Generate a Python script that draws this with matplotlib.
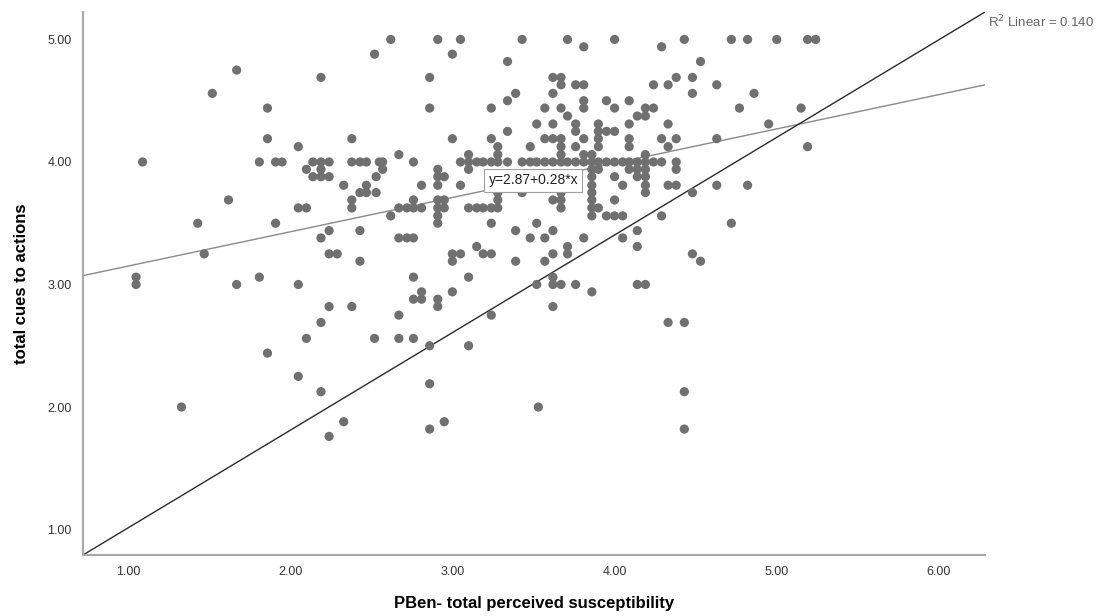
import matplotlib
matplotlib.use("Agg")
import matplotlib.pyplot as plt
import numpy as np

plt.rcParams['font.family'] = ['Liberation Sans', 'DejaVu Sans']

# points grouped by y level (total cues to actions): x values (susceptibility)
rows = [
    (5.00, [2.62, 2.91, 3.05, 3.43, 3.71, 4.00, 4.43, 4.72, 4.82, 5.00, 5.19, 5.24]),
    (4.94, [3.81, 4.29]),
    (4.88, [2.52, 3.00]),
    (4.82, [3.34, 4.53]),
    (4.75, [1.67]),
    (4.69, [2.19, 2.86, 3.62, 3.67, 4.38, 4.48]),
    (4.63, [3.67, 3.76, 3.81, 4.24, 4.33, 4.63]),
    (4.56, [1.52, 3.39, 3.62, 4.48, 4.86]),
    (4.50, [3.34, 3.81, 3.95, 4.09]),
    (4.44, [1.86, 2.86, 3.24, 3.57, 3.67, 3.81, 4.00, 4.19, 4.24, 4.77, 5.15]),
    (4.375, [3.71, 4.14, 4.19]),
    (4.31, [3.52, 3.62, 3.76, 3.90, 4.09, 4.33, 4.95]),
    (4.25, [3.34, 3.76, 3.90, 3.95, 4.00]),
    (4.19, [1.86, 2.38, 3.00, 3.24, 3.57, 3.62, 3.67, 3.81, 3.90, 4.09, 4.29, 4.38, 4.63]),
    (4.125, [2.05, 3.28, 3.48, 3.67, 3.76, 3.90, 4.09, 4.33, 5.19]),
    (4.06, [2.67, 3.10, 3.28, 3.67, 3.81, 3.86, 4.19]),
    (4.00, [1.09, 1.81, 1.91, 1.95, 2.14, 2.19, 2.24, 2.38, 2.43, 2.47, 2.55, 2.57,
            2.76, 3.05, 3.10, 3.15, 3.19, 3.24, 3.28, 3.34, 3.43, 3.48, 3.52, 3.57,
            3.62, 3.67, 3.71, 3.76, 3.81, 3.86, 3.90, 3.95, 4.00, 4.05, 4.09, 4.14,
            4.19, 4.24, 4.29, 4.38]),
    (3.94, [2.10, 2.19, 2.57, 2.91, 3.10, 3.86, 3.90, 4.09, 4.14, 4.19, 4.38]),
    (3.88, [2.14, 2.19, 2.24, 2.53, 2.91, 2.95, 3.67, 3.76, 3.86, 4.00, 4.14, 4.19]),
    (3.81, [2.33, 2.47, 2.81, 2.91, 3.05, 3.28, 3.34, 3.67, 3.86, 4.05, 4.19, 4.33,
            4.38, 4.63, 4.82]),
    (3.75, [2.43, 2.47, 2.53, 3.28, 3.43, 3.67, 3.86, 4.19, 4.48]),
    (3.69, [1.62, 2.38, 2.76, 2.91, 2.95, 3.28, 3.62, 3.67, 3.86, 4.00]),
    (3.625, [2.05, 2.10, 2.38, 2.67, 2.72, 2.76, 2.81, 2.91, 2.95, 3.10, 3.15, 3.19,
             3.24, 3.28, 3.67, 3.86, 3.90]),
    (3.56, [2.62, 2.91, 3.86, 3.95, 4.00, 4.05, 4.29]),
    (3.50, [1.43, 1.91, 2.91, 3.24, 3.52, 4.72]),
    (3.44, [2.24, 2.43, 3.39, 3.62, 4.14]),
    (3.38, [2.19, 2.67, 2.72, 2.76, 3.48, 3.57, 3.81, 4.05]),
    (3.31, [3.15, 3.71, 4.14]),
    (3.25, [1.47, 2.24, 2.29, 3.00, 3.05, 3.19, 3.24, 3.62, 3.71, 4.48]),
    (3.19, [2.43, 3.00, 3.39, 3.57, 4.53]),
    (3.06, [1.05, 1.81, 2.76, 3.10, 3.62]),
    (3.00, [1.05, 1.67, 2.05, 3.52, 3.62, 3.67, 3.76, 4.14, 4.19]),
    (2.94, [2.81, 3.00, 3.86]),
    (2.88, [2.76, 2.81, 2.91]),
    (2.82, [2.24, 2.38, 2.91, 3.62]),
    (2.75, [2.67, 3.24]),
    (2.69, [2.19, 4.33, 4.43]),
    (2.56, [2.10, 2.52, 2.67, 2.76]),
    (2.50, [2.86, 3.10]),
    (2.44, [1.86]),
    (2.25, [2.05]),
    (2.19, [2.86]),
    (2.125, [2.19, 4.43]),
    (2.00, [1.33, 3.53]),
    (1.88, [2.33, 2.95]),
    (1.82, [2.86, 4.43]),
    (1.76, [2.24]),
]

susceptibility = [x for yv, xs in rows for x in xs]
cues = [yv for yv, xs in rows for x in xs]

intercept = 2.87
slope = 0.28
r2 = 0.140
x_ticks = [1, 2, 3, 4, 5, 6]
y_ticks = [1, 2, 3, 4, 5]
xlim = (0.7226, 6.2836)
ylim = (0.792, 5.224)

fig = plt.figure(figsize=(11.02, 6.16), dpi=100)
ax = fig.add_axes([0.0753, 0.0990, 0.8185, 0.8815])

ax.scatter(susceptibility, cues, s=44, color='#707070', edgecolors='none', zorder=3)

xs = np.array(xlim)
ax.plot(xs, intercept + slope * xs, color='#8a8a8a', lw=1.0, zorder=2)
ax.plot([0, 1], [0, 1], transform=ax.transAxes, color='#2b2b2b', lw=1.0, zorder=2)

lx = 3.5
ax.text(lx, intercept + slope * lx, f"y={intercept:.2f}+{slope:.2f}*x", ha='center', va='center',
        fontsize=10, color='#222222', zorder=5,
        bbox=dict(boxstyle='square,pad=0.3', facecolor='white', edgecolor='#a0a0a0', lw=0.8))

fig.text(0.8965, 0.964, f"R$^2$ Linear = {r2:.3f}", ha='left', va='center', fontsize=9.5, color='#666666')

ax.set_xlim(*xlim)
ax.set_ylim(*ylim)
ax.set_xticks(x_ticks)
ax.set_yticks(y_ticks)
ax.set_xticklabels([f"{t:.2f}" for t in x_ticks])
ax.set_yticklabels([f"{t:.2f}" for t in y_ticks])
ax.tick_params(length=0, labelsize=9, colors='#333333', pad=8)
for s in ['top', 'right']:
    ax.spines[s].set_visible(False)
for s in ['left', 'bottom']:
    ax.spines[s].set_color('#a8a8a8')
    ax.spines[s].set_linewidth(1.5)

ax.set_xlabel("PBen- total perceived susceptibility", fontsize=12, fontweight='bold', labelpad=13)
ax.set_ylabel("total cues to actions", fontsize=12, fontweight='bold', labelpad=13)

fig.savefig("out.png", dpi=100)
